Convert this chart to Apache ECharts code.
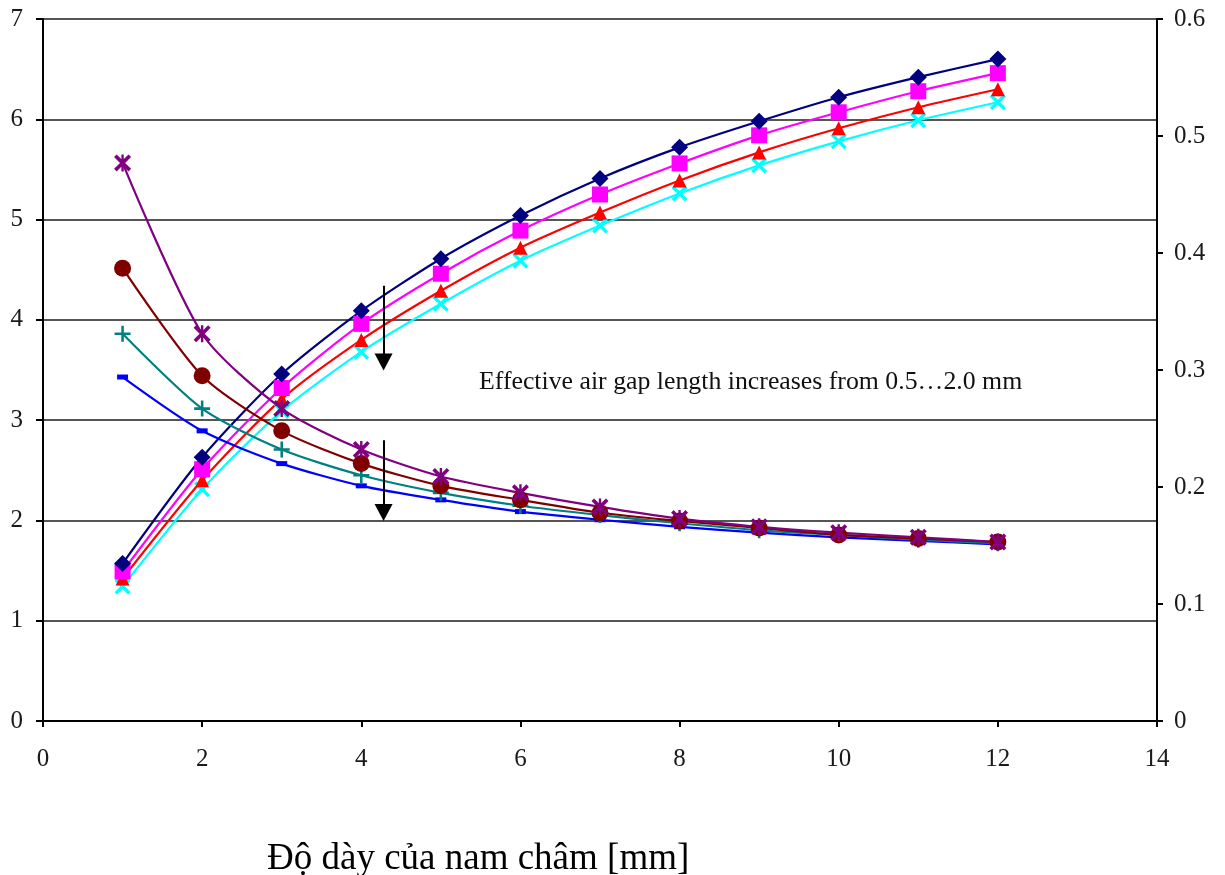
<!DOCTYPE html>
<html>
<head>
<meta charset="utf-8">
<script src="https://cdn.jsdelivr.net/npm/echarts@6/dist/echarts.min.js"></script>
<style>html,body{margin:0;padding:0;background:#fff}#c{width:1225px;height:875px}</style>
</head>
<body>
<div id="c"></div>
<script>
// x: magnet thickness [mm]
const xs = [1,2,3,4,5,6,7,8,9,10,11,12];
// increasing series (left axis)
const sNavy    = [1.57,2.63,3.46,4.09,4.61,5.04,5.41,5.72,5.98,6.22,6.42,6.60];
const sMagenta = [1.49,2.51,3.32,3.96,4.46,4.89,5.25,5.56,5.84,6.07,6.28,6.46];
const sRed     = [1.42,2.40,3.21,3.80,4.29,4.72,5.07,5.39,5.67,5.91,6.12,6.30];
const sCyan    = [1.34,2.31,3.09,3.68,4.16,4.59,4.94,5.26,5.54,5.78,5.99,6.17];
// decreasing series (right axis)
const sPurple  = [0.477,0.331,0.267,0.232,0.209,0.195,0.183,0.173,0.166,0.161,0.157,0.153];
const sBrown   = [0.387,0.295,0.248,0.220,0.201,0.189,0.178,0.171,0.165,0.159,0.156,0.153];
const sTeal    = [0.331,0.267,0.232,0.210,0.195,0.184,0.176,0.169,0.163,0.159,0.155,0.152];
const sBlue    = [0.294,0.248,0.220,0.201,0.189,0.179,0.172,0.166,0.161,0.157,0.154,0.151];
// annotation arrows (x, yTop, yBottom in left-axis units)
const arrowUp = [4.28, 4.34, 3.58];
const arrowLow = [4.28, 2.80, 2.08];
const noteText = 'Effective air gap length increases from 0.5…2.0 mm';
const xTitle = 'Độ dày của nam châm [mm]';

const pair = a => xs.map((x,i)=>[x,a[i]]);
const SERIF = '"Liberation Serif","DejaVu Serif",serif';
const P_X = 'path://M0,1.5L1.5,0L5,3.5L8.5,0L10,1.5L6.5,5L10,8.5L8.5,10L5,6.5L1.5,10L0,8.5L3.5,5Z';
const P_PLUS = 'path://M4.2,0H5.8V4.2H10V5.8H5.8V10H4.2V5.8H0V4.2H4.2Z';
const P_AST = 'path://M0,1.5L1.5,0L5,3.5L8.5,0L10,1.5L6.5,5L10,8.5L8.5,10L5,6.5L1.5,10L0,8.5L3.5,5Z M4.3,0H5.7V10H4.3Z';

function ser(name, data, color, symbol, size, yi, extra){
  return Object.assign({
    name, type:'line', data:pair(data), yAxisIndex:yi, smooth:0.25,
    symbol, symbolSize:size, showSymbol:true,
    lineStyle:{color, width:2.2}, itemStyle:{color},
    emphasis:{disabled:true}, z:3
  }, extra||{});
}
const mlStyle = {color:'#000', width:2, type:'solid'};
const chart = echarts.init(document.getElementById('c'));
chart.setOption({
  animation:false,
  grid:{left:43, right:68, top:19, bottom:154, containLabel:false},
  xAxis:{type:'value', min:0, max:14, interval:2,
    axisLine:{show:true, onZero:false, lineStyle:{color:'#000', width:2}},
    axisTick:{show:true, length:6, lineStyle:{color:'#000', width:2}},
    axisLabel:{color:'#1a1a1a', fontFamily:SERIF, fontSize:25, margin:26},
    splitLine:{show:false}},
  yAxis:[
    {type:'value', min:0, max:7, interval:1, position:'left',
     axisLine:{show:true, lineStyle:{color:'#000', width:2}},
     axisTick:{show:true, length:7, lineStyle:{color:'#000', width:2}},
     axisLabel:{color:'#1a1a1a', fontFamily:SERIF, fontSize:25, margin:20},
     splitLine:{show:true, lineStyle:{color:'#555', width:2}}},
    {type:'value', min:0, max:0.6, interval:0.1, position:'right',
     axisLine:{show:true, lineStyle:{color:'#000', width:2}},
     axisTick:{show:true, length:6, lineStyle:{color:'#000', width:2}},
     axisLabel:{color:'#1a1a1a', fontFamily:SERIF, fontSize:25, margin:17,
       formatter:v=>v===0?'0':String(+v.toFixed(1))},
     splitLine:{show:false}}
  ],
  title:{text:xTitle, left:262, top:836, textStyle:{fontFamily:SERIF, fontSize:37, fontWeight:'normal', color:'#000'}},
  graphic:[{type:'text', left:479, top:369, style:{text:noteText, font:'25.8px "Liberation Serif", serif', fill:'#111'}}],
  series:[
    ser('A', sCyan, '#00FFFF', P_X, 16, 0),
    ser('B', sRed, '#FF0000', 'triangle', 14, 0),
    ser('C', sMagenta, '#FF00FF', 'rect', 16, 0),
    ser('D', sNavy, '#000080', 'diamond', 17, 0, {
      markLine:{silent:true, symbol:['none','triangle'], symbolSize:[18,17],
        lineStyle:mlStyle, label:{show:false},
        data:[
          [{coord:[arrowUp[0],arrowUp[1]]},{coord:[arrowUp[0],arrowUp[2]]}],
          [{coord:[arrowLow[0],arrowLow[1]]},{coord:[arrowLow[0],arrowLow[2]]}]
        ]}}),
    ser('E', sBlue, '#0000FF', 'rect', [11,5], 1),
    ser('F', sTeal, '#008080', P_PLUS, 16, 1),
    ser('G', sBrown, '#800000', 'circle', 17, 1),
    ser('H', sPurple, '#800080', P_AST, 17, 1)
  ]
});
</script>
</body>
</html>
